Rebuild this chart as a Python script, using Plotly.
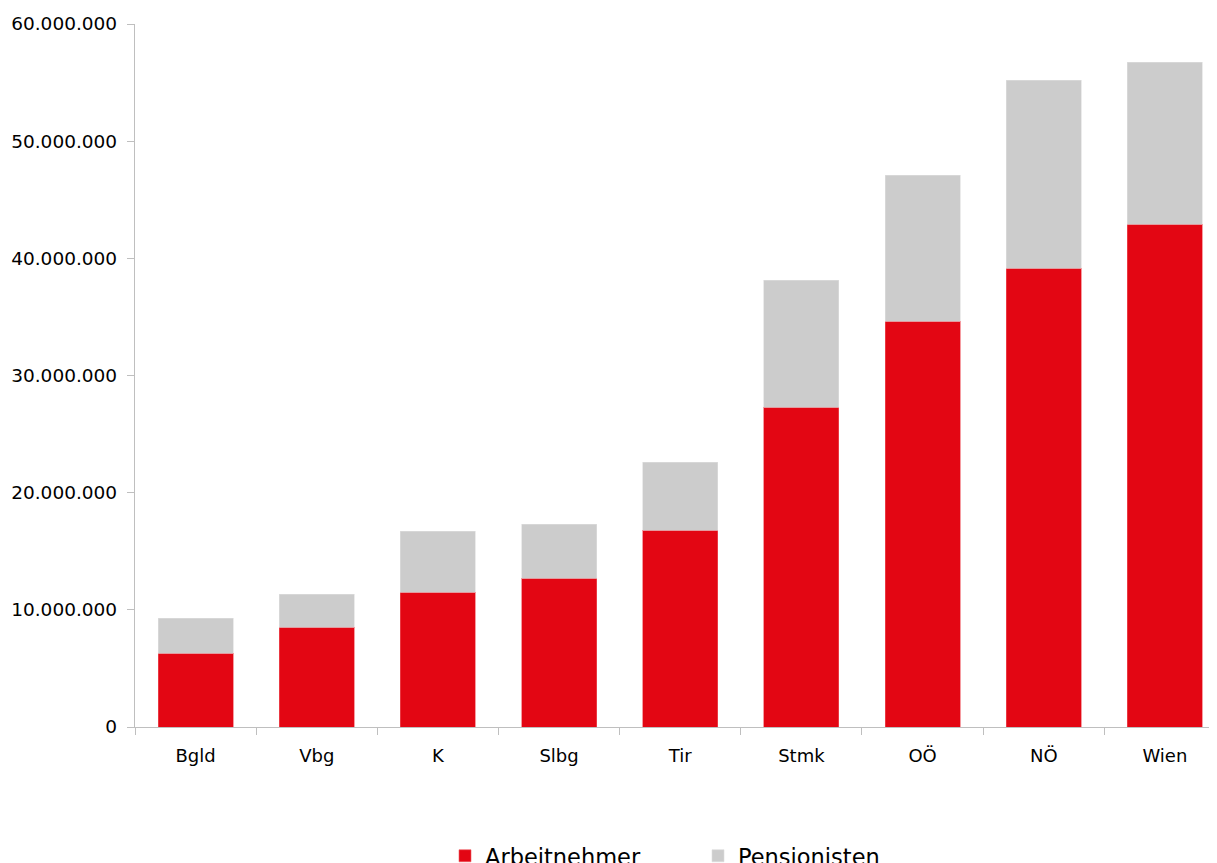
import plotly.graph_objects as go

categories = ["Bgld", "Vbg", "K", "Slbg", "Tir", "Stmk", "OÖ", "NÖ", "Wien"]
arbeitnehmer = [6310000, 8530000, 11520000, 12710000, 16810000, 27300000, 34640000, 39160000, 42920000]
gesamt = [9300000, 11350000, 16720000, 17320000, 22610000, 38140000, 47100000, 55200000, 56740000]
pensionisten = [g - a for g, a in zip(gesamt, arbeitnehmer)]
y_ticks = [0, 10000000, 20000000, 30000000, 40000000, 50000000, 60000000]

RED = "#E30613"
GREY = "#CCCCCC"
AXIS = "#BFBFBF"
FONT = "DejaVu Sans"

fig = go.Figure()
fig.add_trace(go.Bar(x=categories, y=arbeitnehmer, name="Arbeitnehmer",
                     marker=dict(color=RED, line=dict(color="#EE5A62", width=0.6)), width=0.62))
fig.add_trace(go.Bar(x=categories, y=pensionisten, name="Pensionisten",
                     marker=dict(color=GREY, line=dict(color="#DDDDDD", width=0.6)), width=0.62))

fig.update_layout(
    barmode="stack",
    width=1209, height=855,
    margin=dict(l=127, r=0, t=16, b=136),
    paper_bgcolor="white", plot_bgcolor="white",
    separators=",.",
    font=dict(family=FONT, size=18.5, color="#000000"),
    showlegend=True,
    legend=dict(orientation="h", x=310 / 1082, xanchor="left",
                yref="container", y=0.008, yanchor="middle",
                font=dict(family=FONT, size=22.5, color="#000000"),
                itemwidth=30, entrywidth=208, entrywidthmode="pixels",
                traceorder="normal", bgcolor="rgba(0,0,0,0)"),
    bargap=0.38,
)
fig.update_xaxes(
    range=[-0.5, 8.43], showline=True, linecolor=AXIS, linewidth=1.3,
    ticks="outside", tickson="boundaries", ticklen=7, tickcolor=AXIS, tickwidth=1.3,
    showgrid=False, tickfont=dict(family=FONT, size=18), ticklabelstandoff=12,
)
fig.update_yaxes(
    range=[0, 60000000], tickvals=y_ticks, tickformat=",d",
    showline=True, linecolor=AXIS, linewidth=1.3,
    ticks="outside", ticklen=7, tickcolor=AXIS, tickwidth=1.3, ticklabelstandoff=6,
    showgrid=False, zeroline=False, tickfont=dict(family=FONT, size=18.5),
)

fig.write_html("out.html")
